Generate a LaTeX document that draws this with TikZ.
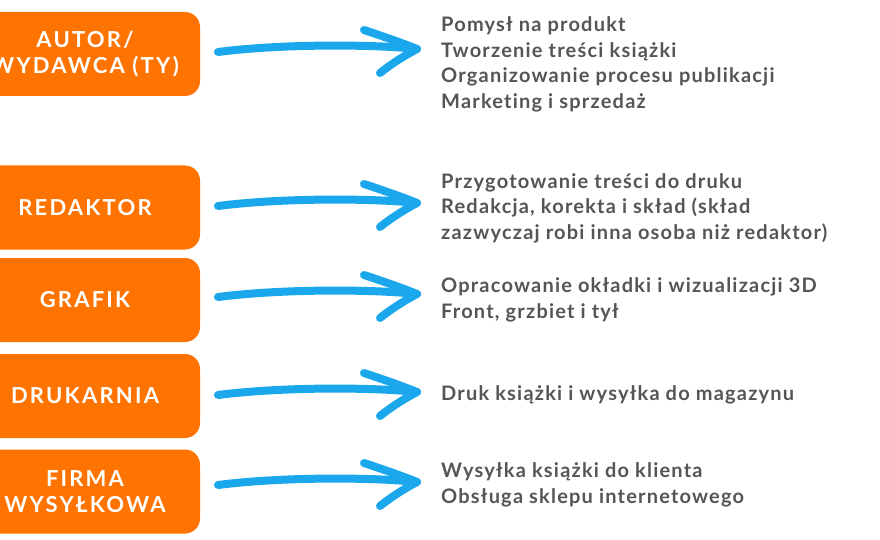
\documentclass[tikz,border=0pt]{standalone}
\usepackage{fontspec}
\setmainfont{Lato}
\newfontfamily\boxfont[LetterSpace=10,Ligatures=NoCommon]{Lato Bold}
\newfontfamily\bodyfont[LetterSpace=6,Ligatures=NoCommon]{Lato Bold}
\definecolor{orangebox}{HTML}{FF7300}
\definecolor{bluearrow}{HTML}{1AA7EC}
\definecolor{graytext}{HTML}{555555}
\tikzset{
  rolebox/.style={fill=orangebox, rounded corners=15pt, minimum width=230pt, minimum height=84pt,
    text=white, align=center, inner sep=0pt, font=\boxfont\fontsize{22}{26}\selectfont},
  desc/.style={anchor=base west, align=left, inner sep=0pt, text=graytext,
    font=\bodyfont\fontsize{20}{25.5}\selectfont},
  handarrow/.style={draw=bluearrow, line width=8pt, line cap=round, line join=round},
}
\begin{document}
\begin{tikzpicture}[x=1pt,y=-1pt]
\useasboundingbox (0,0) rectangle (880,540);
\clip (0,0) rectangle (880,540);
% boxes
\node[rolebox] (b1) at (85,54) {AUTOR/\\WYDAWCA (TY)};
\node[rolebox] (b2) at (85,207.5) {REDAKTOR};
\node[rolebox] (b3) at (85,300) {GRAFIK};
\node[rolebox] (b4) at (85,396) {DRUKARNIA};
\node[rolebox] (b5) at (85,491.5) {FIRMA\\WYSYŁKOWA};
% descriptions (anchored at the baseline of the last line)
\node[desc] (t1) at (441,108.5) {Pomysł na produkt\\Tworzenie treści książki\\Organizowanie procesu publikacji\\Marketing i sprzedaż};
\node[desc] (t2) at (441,239) {Przygotowanie treści do druku\\Redakcja, korekta i skład (skład\\zazwyczaj robi inna osoba niż redaktor)};
\node[desc] (t3) at (441,318) {Opracowanie okładki i wizualizacji 3D\\Front, grzbiet i tył};
\node[desc] (t4) at (441,400) {Druk książki i wysyłka do magazynu};
\node[desc] (t5) at (441,503) {Wysyłka książki do klienta\\Obsługa sklepu internetowego};
% arrows
\foreach \i/\y in {1/49,2/203,3/294,4/392,5/482}{
  \coordinate (s\i) at (218,\y+3);
  \coordinate (e\i) at (417,\y);
  \draw[handarrow] (s\i) .. controls (280,\y-5) and (370,\y-5) .. (e\i);
  \draw[handarrow] (364,\y-19) .. controls (385,\y-12) and (405,\y-5) .. (e\i)
                   .. controls (402,\y+8) and (390,\y+16) .. (380,\y+24);
}
\end{tikzpicture}
\end{document}
